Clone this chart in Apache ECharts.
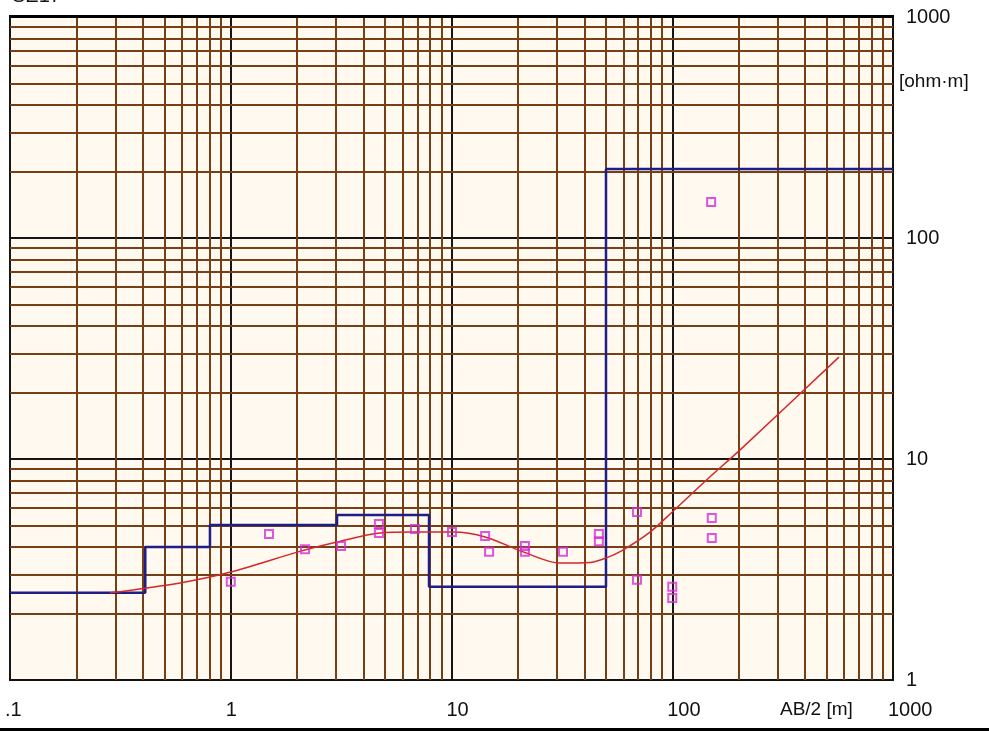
<!DOCTYPE html>
<html>
<head>
<meta charset="utf-8">
<title>VES sounding curve</title>
<script src="https://cdn.jsdelivr.net/npm/echarts@6/dist/echarts.min.js"></script>
<style>
    html, body { margin: 0; padding: 0; background: #fff; }
    #chart { width: 989px; height: 731px; }
</style>
</head>
<body>
<div id="chart"></div>
<script>
    // 视电阻率测深曲线 (AB/2 - ρ)
    // 模型层：每层顶部 AB/2 与电阻率
    var layerTop = [0.1, 0.41, 0.805, 3.03, 7.91, 50.1, 1000]
    var layerRho = [2.48, 4.0, 5.03, 5.58, 2.64, 205, 205]

    // 拟合曲线
    var fitX = [0.284, 0.589, 1.0, 2.02, 3.03, 4.74, 6.69, 10.2, 14.2, 21.1, 31.0, 42.4, 50.6, 59.2, 79.3, 100, 143, 203, 569]
    var fitY = [2.48, 2.75, 3.08, 3.80, 4.21, 4.63, 4.67, 4.67, 4.44, 3.80, 3.38, 3.40, 3.58, 3.85, 4.67, 5.76, 8.04, 11.0, 28.9]

    // 实测点
    var obsX = [1.0, 1.49, 2.17, 3.16, 4.69, 4.69, 6.83, 10.05, 14.2, 14.8, 21.5, 21.5, 32.0, 46.5, 46.5, 69.2, 69.2, 100, 100, 151, 151, 150]
    var obsY = [2.78, 4.58, 3.91, 4.04, 5.08, 4.63, 4.82, 4.67, 4.48, 3.80, 4.04, 3.80, 3.80, 4.58, 4.25, 5.76, 2.84, 2.64, 2.35, 5.41, 4.39, 145.5]

    // 网格的次刻度
    var xDecades = [0.1, 1, 10, 100]
    var yDecades = [1, 10, 100]
    var minorSteps = [2, 3, 4, 5, 6, 7, 8, 9]

    var gridBrown = '#763f16'
    var minorLines = []
    xDecades.forEach(function (d) {
        minorSteps.forEach(function (m) {
            minorLines.push({xAxis: +(d * m).toPrecision(6)})
        })
    })
    yDecades.forEach(function (d) {
        minorSteps.forEach(function (m) {
            minorLines.push({yAxis: +(d * m).toPrecision(6)})
        })
    })

    var modelData = layerTop.map(function (x, i) { return [x, layerRho[i]] })
    var fitData = fitX.map(function (x, i) { return [x, fitY[i]] })
    var obsData = obsX.map(function (x, i) { return [x, obsY[i]] })

    var labelFont = {
        fontFamily: 'Liberation Sans',
        fontSize: 20,
        color: '#111'
    }

    var myChart = echarts.init(document.getElementById('chart'))
    var option = {
        backgroundColor: '#fff',
        animation: false,
        grid: {
            left: 10,
            right: 96,
            top: 17,
            bottom: 51,
            show: true,
            backgroundColor: '#fff9f0',
            borderColor: '#111',
            borderWidth: 2
        },
        xAxis: {
            type: 'log',
            logBase: 10,
            min: 0.1,
            max: 1000,
            axisLine: {show: true, lineStyle: {color: '#111', width: 2}},
            axisTick: {show: false},
            splitLine: {show: true, lineStyle: {color: '#151515', width: 2}},
            axisLabel: Object.assign({
                align: 'left',
                margin: 20,
                padding: [0, 0, 0, -5],
                formatter: function (v) {
                    return Math.abs(v - 0.1) < 1e-9 ? '.1' : String(Math.round(v))
                }
            }, labelFont)
        },
        yAxis: {
            type: 'log',
            logBase: 10,
            min: 1,
            max: 1000,
            position: 'right',
            axisLine: {show: true, lineStyle: {color: '#111', width: 2}},
            axisTick: {show: false},
            splitLine: {show: true, lineStyle: {color: '#151515', width: 2}},
            axisLabel: Object.assign({
                align: 'left',
                margin: 13,
                formatter: function (v) { return String(Math.round(v)) }
            }, labelFont)
        },
        graphic: [
            {type: 'text', left: 899, top: 72, style: {text: '[ohm·m]', font: '19px "Liberation Sans"', fill: '#111'}},
            {type: 'text', left: 780, top: 700, style: {text: 'AB/2 [m]', font: '19px "Liberation Sans"', fill: '#111'}},
            {type: 'text', left: 12, top: -14, style: {text: 'SE17', font: '20px "Liberation Sans"', fill: '#111'}},
            {type: 'rect', left: 9, top: 15, shape: {width: 885, height: 3}, style: {fill: '#000'}, silent: true, z: 10},
            {type: 'rect', left: 0, top: 728, shape: {width: 989, height: 3}, style: {fill: '#000'}, silent: true}
        ],
        series: [
            {
                name: 'grid',
                type: 'line',
                data: [],
                silent: true,
                z: 1,
                markLine: {
                    silent: true,
                    symbol: 'none',
                    z: 1,
                    label: {show: false},
                    emphasis: {disabled: true},
                    lineStyle: {color: gridBrown, width: 2, type: 'solid'},
                    data: minorLines
                }
            },
            {
                name: 'model',
                type: 'line',
                step: 'end',
                data: modelData,
                symbol: 'none',
                z: 4,
                lineStyle: {color: '#1e1e86', width: 2.5}
            },
            {
                name: 'fit',
                type: 'line',
                smooth: 0.3,
                data: fitData,
                symbol: 'none',
                z: 5,
                lineStyle: {color: '#d42828', width: 1.5}
            },
            {
                name: 'observed',
                type: 'scatter',
                data: obsData,
                symbol: 'rect',
                symbolSize: 8,
                z: 6,
                itemStyle: {color: 'rgba(0,0,0,0)', borderColor: '#d62ad6', borderWidth: 2}
            }
        ]
    }
    myChart.setOption(option)
</script>
</body>
</html>
